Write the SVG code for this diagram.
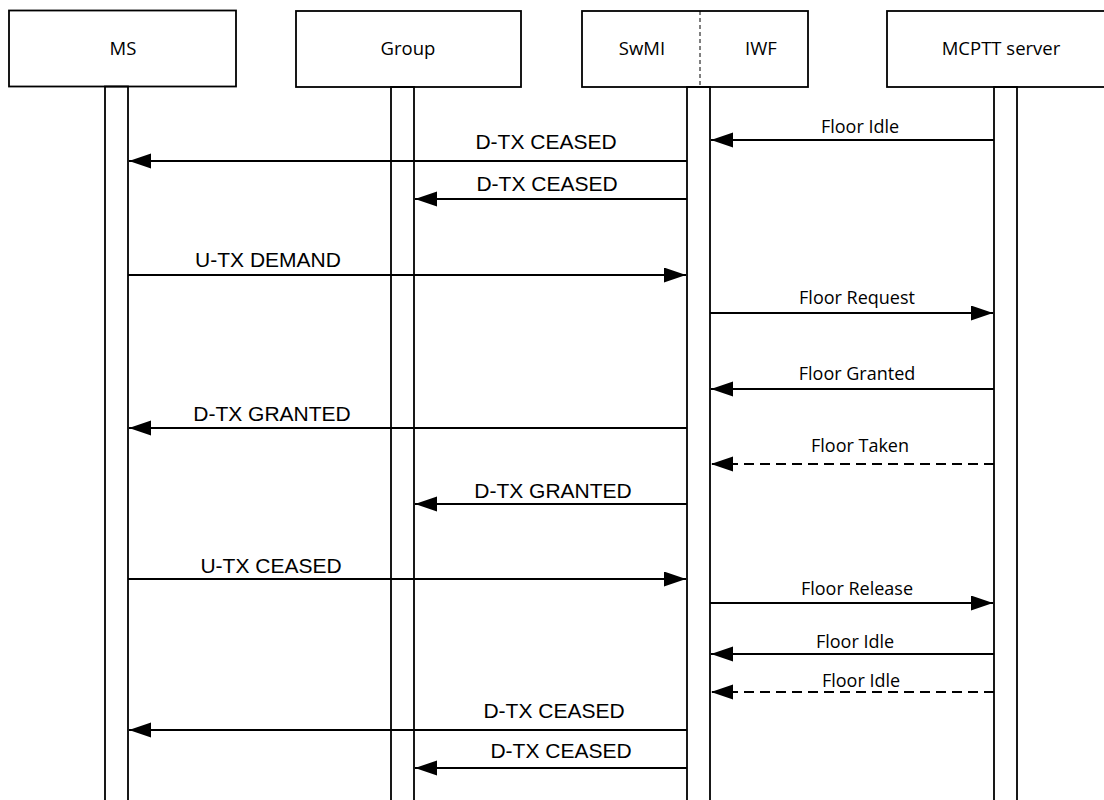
<svg xmlns="http://www.w3.org/2000/svg" width="1104" height="800" viewBox="0 0 1104 800">
  <style>
    .box { fill: #ffffff; stroke: #000000; stroke-width: 1.8; }
    .life { fill: none; stroke: #000000; stroke-width: 1.8; }
    .divider { stroke: #000000; stroke-width: 1; stroke-dasharray: 4 3; }
    .msg { stroke: #000000; stroke-width: 1.8; fill: none; marker-end: url(#head); }
    .dashed { stroke-dasharray: 10 6; }
    .ent { font-family: "Open Sans", "Noto Sans", sans-serif; font-size: 18.5px; fill: #000000; text-anchor: middle; }
    .floor { font-family: "Open Sans", "Noto Sans", sans-serif; font-size: 18px; fill: #000000; text-anchor: middle; }
    .tetra { font-family: "Liberation Sans", Arial, sans-serif; font-size: 21px; fill: #000000; text-anchor: middle; }
  </style>
  <defs>
    <marker id="head" markerUnits="userSpaceOnUse" markerWidth="24" markerHeight="16" refX="22" refY="7.5" orient="auto">
      <path d="M0,0 L22,7.5 L0,15 Z" fill="#000000"/>
    </marker>
  </defs>

  <rect width="1104" height="800" fill="#ffffff"/>

  <!-- Participants with their lifelines -->
  <g id="ms">
    <rect class="box" x="9" y="10.5" width="227" height="76"/>
    <text class="ent" x="123" y="55">MS</text>
    <rect class="life" x="105" y="86.5" width="23" height="730"/>
  </g>

  <g id="group">
    <rect class="box" x="296" y="11" width="225" height="76"/>
    <text class="ent" x="408" y="55">Group</text>
    <rect class="life" x="391" y="87" width="23" height="730"/>
  </g>

  <g id="swmi-iwf">
    <rect class="box" x="582" y="11" width="226" height="76"/>
    <line class="divider" x1="700" y1="11" x2="700" y2="87"/>
    <text class="ent" x="642" y="55">SwMI</text>
    <text class="ent" x="761" y="55">IWF</text>
    <rect class="life" x="687" y="87" width="23" height="730"/>
  </g>

  <g id="mcptt">
    <rect class="box" x="887" y="11" width="226" height="76"/>
    <text class="ent" x="1001" y="55">MCPTT server</text>
    <rect class="life" x="994" y="87" width="23" height="730"/>
  </g>

  <!-- Messages -->
  <g id="connectors">
    <line class="msg" x1="994" y1="140" x2="711" y2="140"/>
    <text class="floor" x="860" y="133">Floor Idle</text>

    <line class="msg" x1="687" y1="161" x2="129" y2="161"/>
    <text class="tetra" x="546" y="149">D-TX CEASED</text>

    <line class="msg" x1="687" y1="199" x2="415" y2="199"/>
    <text class="tetra" x="547" y="191">D-TX CEASED</text>

    <line class="msg" x1="128" y1="275" x2="686" y2="275"/>
    <text class="tetra" x="268" y="267">U-TX DEMAND</text>

    <line class="msg" x1="710" y1="313" x2="993" y2="313"/>
    <text class="floor" x="857" y="304">Floor Request</text>

    <line class="msg" x1="994" y1="389" x2="711" y2="389"/>
    <text class="floor" x="857" y="380">Floor Granted</text>

    <line class="msg" x1="687" y1="428" x2="129" y2="428"/>
    <text class="tetra" x="272" y="421">D-TX GRANTED</text>

    <line class="msg dashed" x1="994" y1="464" x2="711" y2="464"/>
    <text class="floor" x="860" y="452">Floor Taken</text>

    <line class="msg" x1="687" y1="504" x2="415" y2="504"/>
    <text class="tetra" x="553" y="498">D-TX GRANTED</text>

    <line class="msg" x1="128" y1="579" x2="686" y2="579"/>
    <text class="tetra" x="271" y="573">U-TX CEASED</text>

    <line class="msg" x1="710" y1="603" x2="993" y2="603"/>
    <text class="floor" x="857" y="595">Floor Release</text>

    <line class="msg" x1="994" y1="654" x2="711" y2="654"/>
    <text class="floor" x="855" y="648">Floor Idle</text>

    <line class="msg dashed" x1="994" y1="692" x2="711" y2="692"/>
    <text class="floor" x="861" y="687">Floor Idle</text>

    <line class="msg" x1="687" y1="730" x2="129" y2="730"/>
    <text class="tetra" x="554" y="718">D-TX CEASED</text>

    <line class="msg" x1="687" y1="768" x2="415" y2="768"/>
    <text class="tetra" x="561" y="758">D-TX CEASED</text>
  </g>
</svg>
